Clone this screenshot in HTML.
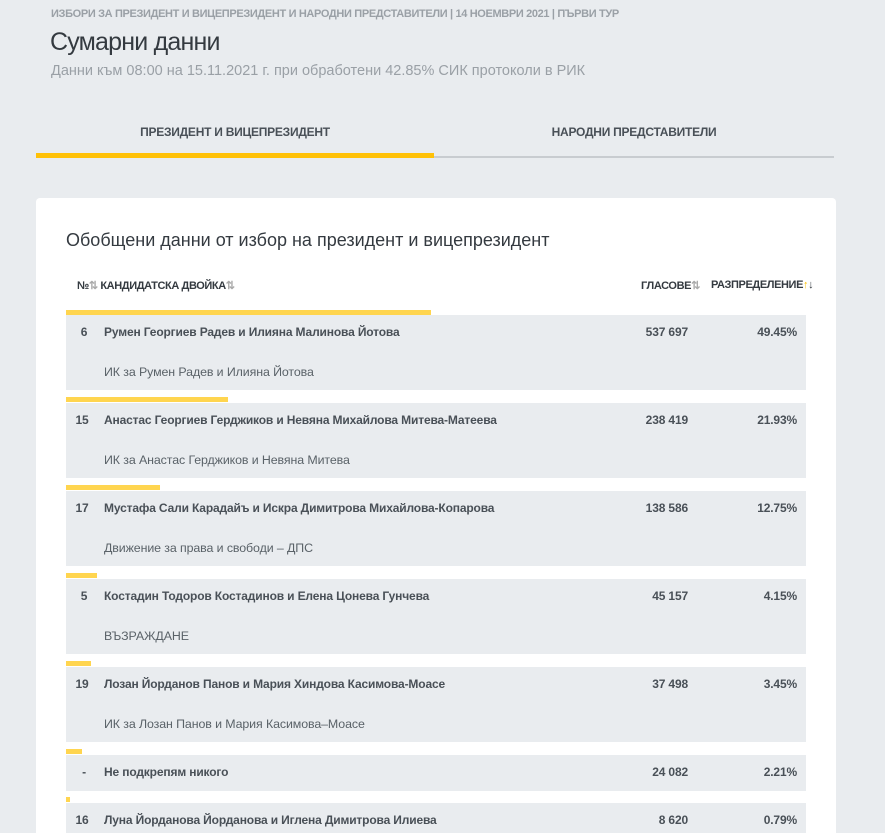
<!DOCTYPE html>
<html style="width:885px;height:833px;overflow:hidden"><head><meta charset="utf-8"><style>
*{margin:0;padding:0;box-sizing:border-box}
body{width:885px;height:833px;overflow:hidden;background:#e9ecef;font-family:"Liberation Sans",sans-serif;color:#495057;position:relative}
.a{position:absolute;white-space:nowrap}
.card{position:absolute;left:36px;top:198px;width:800px;height:635px;background:#fff;border-radius:4px 4px 0 0}
.bar{position:absolute;left:66px;height:5px;background:#ffd54f}
.row{position:absolute;left:66px;width:740px;background:#e9ecef}
.b{font-weight:bold;font-size:12px;letter-spacing:-0.15px;color:#495057}
.s{font-size:12.4px;color:#5a6268;letter-spacing:-0.1px}
.r{text-align:right}
.h{font-size:11px;font-weight:bold;letter-spacing:-0.4px;color:#343a40}
</style></head><body>
<div class="a" style="left:51px;top:8px;font-size:11px;letter-spacing:-0.35px;font-weight:bold;color:#9aa0a6">ИЗБОРИ ЗА ПРЕЗИДЕНТ И ВИЦЕПРЕЗИДЕНТ И НАРОДНИ ПРЕДСТАВИТЕЛИ | 14 НОЕМВРИ 2021 | ПЪРВИ ТУР</div>
<div class="a" style="left:50px;top:28px;font-size:25px;letter-spacing:-0.8px;color:#343a40">Сумарни данни</div>
<div class="a" style="left:51px;top:63px;font-size:14.5px;color:#9aa0a6">Данни към 08:00 на 15.11.2021 г. при обработени 42.85% СИК протоколи в РИК</div>
<div class="a" style="left:36px;top:125px;width:398px;text-align:center;font-size:12px;letter-spacing:-0.25px;font-weight:bold;color:#495057">ПРЕЗИДЕНТ И ВИЦЕПРЕЗИДЕНТ</div>
<div class="a" style="left:434px;top:125px;width:400px;text-align:center;font-size:12px;letter-spacing:-0.25px;font-weight:bold;color:#495057">НАРОДНИ ПРЕДСТАВИТЕЛИ</div>
<div class="a" style="left:36px;top:156px;width:798px;height:2px;background:#c8ccd0"></div>
<div class="a" style="left:36px;top:153px;width:398px;height:5px;background:#ffc107"></div>
<div class="card"></div>
<div class="a" style="left:66px;top:230px;font-size:18px;color:#343a40">Обобщени данни от избор на президент и вицепрезидент</div>
<div class="a h" style="left:77px;top:279px">№<span style="color:#aaa">⇅</span> КАНДИДАТСКА ДВОЙКА<span style="color:#aaa">⇅</span></div>
<div class="a h" style="left:641px;top:279px">ГЛАСОВЕ<span style="color:#aaa">⇅</span></div>
<div class="a h" style="left:711px;top:279px">РАЗПРЕДЕЛЕНИЕ<span style="color:#ffc107">↑</span>↓</div>

<div class="bar" style="top:310px;width:365px"></div><div class="row" style="top:315px;height:75px"></div>
<div class="a b" style="left:66px;width:36px;text-align:center;top:325px">6</div>
<div class="a b" style="left:104px;top:325px">Румен Георгиев Радев и Илияна Малинова Йотова</div>
<div class="a s" style="left:104px;top:365px">ИК за Румен Радев и Илияна Йотова</div>
<div class="a b r" style="left:588px;width:100px;top:325px">537 697</div>
<div class="a b r" style="left:697px;width:100px;top:325px">49.45%</div>

<div class="bar" style="top:397px;width:162px"></div><div class="row" style="top:403px;height:75px"></div>
<div class="a b" style="left:66px;width:32px;text-align:center;top:413px">15</div>
<div class="a b" style="left:104px;top:413px">Анастас Георгиев Герджиков и Невяна Михайлова Митева-Матеева</div>
<div class="a s" style="left:104px;top:453px">ИК за Анастас Герджиков и Невяна Митева</div>
<div class="a b r" style="left:588px;width:100px;top:413px">238 419</div>
<div class="a b r" style="left:697px;width:100px;top:413px">21.93%</div>

<div class="bar" style="top:485px;width:94px"></div><div class="row" style="top:491px;height:75px"></div>
<div class="a b" style="left:66px;width:32px;text-align:center;top:501px">17</div>
<div class="a b" style="left:104px;top:501px">Мустафа Сали Карадайъ и Искра Димитрова Михайлова-Копарова</div>
<div class="a s" style="left:104px;top:541px">Движение за права и свободи – ДПС</div>
<div class="a b r" style="left:588px;width:100px;top:501px">138 586</div>
<div class="a b r" style="left:697px;width:100px;top:501px">12.75%</div>

<div class="bar" style="top:573px;width:31px"></div><div class="row" style="top:579px;height:75px"></div>
<div class="a b" style="left:66px;width:36px;text-align:center;top:589px">5</div>
<div class="a b" style="left:104px;top:589px">Костадин Тодоров Костадинов и Елена Цонева Гунчева</div>
<div class="a s" style="left:104px;top:629px">ВЪЗРАЖДАНЕ</div>
<div class="a b r" style="left:588px;width:100px;top:589px">45 157</div>
<div class="a b r" style="left:697px;width:100px;top:589px">4.15%</div>

<div class="bar" style="top:661px;width:25px"></div><div class="row" style="top:667px;height:75px"></div>
<div class="a b" style="left:66px;width:32px;text-align:center;top:677px">19</div>
<div class="a b" style="left:104px;top:677px">Лозан Йорданов Панов и Мария Хиндова Касимова-Моасе</div>
<div class="a s" style="left:104px;top:717px">ИК за Лозан Панов и Мария Касимова–Моасе</div>
<div class="a b r" style="left:588px;width:100px;top:677px">37 498</div>
<div class="a b r" style="left:697px;width:100px;top:677px">3.45%</div>

<div class="bar" style="top:749px;width:16px"></div><div class="row" style="top:755px;height:36px"></div>
<div class="a b" style="left:66px;width:36px;text-align:center;top:765px">-</div>
<div class="a b" style="left:104px;top:765px">Не подкрепям никого</div>
<div class="a b r" style="left:588px;width:100px;top:765px">24 082</div>
<div class="a b r" style="left:697px;width:100px;top:765px">2.21%</div>

<div class="bar" style="top:797px;width:4px"></div><div class="row" style="top:803px;height:30px"></div>
<div class="a b" style="left:66px;width:32px;text-align:center;top:813px">16</div>
<div class="a b" style="left:104px;top:813px">Луна Йорданова Йорданова и Иглена Димитрова Илиева</div>
<div class="a b r" style="left:588px;width:100px;top:813px">8 620</div>
<div class="a b r" style="left:697px;width:100px;top:813px">0.79%</div>
</body></html>
